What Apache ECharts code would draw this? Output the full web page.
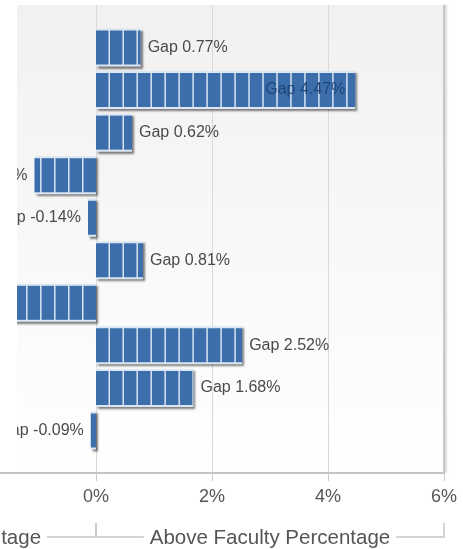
<!DOCTYPE html>
<html><head><meta charset="utf-8">
<script src="https://cdn.jsdelivr.net/npm/echarts@6/dist/echarts.min.js"></script>
<style>html,body{margin:0;padding:0;background:#fff}#c{width:463px;height:549px}</style>
</head><body><div id="c"></div>
<script>
// ---- data ----
const categories = ['Category 1','Category 2','Category 3','Category 4','Category 5','Category 6','Category 7','Category 8','Category 9','Category 10'];
const gapValues = [0.77, 4.47, 0.62, -1.06, -0.14, 0.81, -1.75, 2.52, 1.68, -0.09];
const xMin = -6, xMax = 6, xStep = 2;
const sideTitles = ['Below Faculty Percentage', 'Above Faculty Percentage'];

const FONT = '"Liberation Sans", Arial, Helvetica, sans-serif';
const chart = echarts.init(document.getElementById('c'), null, {renderer: 'canvas'});
const axisCats = [''].concat(categories, ['']);
const pad = arr => ['-'].concat(arr, ['-']);
const maxVal = Math.max.apply(null, gapValues);

const labelItems = gapValues.map(v => {
  let label;
  if (v === maxVal) label = {position: 'insideRight', color: '#234678', distance: 10};
  else if (v < 0) label = {position: 'left'};
  else label = {position: 'right'};
  return {value: v, label: label};
});
const pictItems = gapValues.map(v => ({value: v, symbolBoundingData: v < 0 ? xMin : xMax}));

chart.setOption({
  animation: false,
  textStyle: {fontFamily: FONT},
  grid: {
    left: -252, right: 19, top: 5, bottom: 76, show: true, borderWidth: 0,
    containLabel: false, outerBoundsMode: 'none',
    backgroundColor: {type: 'linear', x: 0, y: 0, x2: 0, y2: 1,
      colorStops: [{offset: 0, color: '#f1f1f1'}, {offset: 1, color: '#ffffff'}]}
  },
  xAxis: {
    type: 'value', min: xMin, max: xMax, interval: xStep,
    axisLine: {show: true, lineStyle: {color: '#c4c4c4', width: 2}},
    axisTick: {show: true, length: 8, lineStyle: {color: '#cccccc'}},
    axisLabel: {formatter: '{value}%', fontSize: 18, color: '#555555', margin: 15, fontFamily: FONT},
    splitLine: {show: true, lineStyle: {color: '#dadada', width: 1}}
  },
  yAxis: {
    type: 'category', inverse: true, boundaryGap: false, data: axisCats,
    axisLine: {show: false}, axisTick: {show: false}, axisLabel: {show: false}, splitLine: {show: false}
  },
  series: [
    {
      type: 'bar', data: pad(gapValues), barWidth: 38, barGap: '-100%', z: 1, silent: true,
      itemStyle: {color: '#dbe6f3', shadowColor: 'rgba(0,0,0,0.5)', shadowBlur: 2, shadowOffsetX: 2, shadowOffsetY: 2}
    },
    {
      type: 'pictorialBar', data: pad(pictItems), z: 2, silent: true,
      symbol: 'rect', symbolRepeat: 'fixed', symbolClip: true,
      symbolSize: [12.5, 34], symbolMargin: 0.9,
      itemStyle: {color: '#3b6eab'}
    },
    {
      type: 'bar', data: pad(labelItems), barWidth: 38, barGap: '-100%', z: 5, silent: true,
      itemStyle: {color: 'rgba(0,0,0,0)'},
      label: {show: true, fontSize: 16, color: '#4a4a4a', distance: 7, fontFamily: FONT,
        formatter: p => 'Gap ' + Number(p.value).toFixed(2) + '%'}
    }
  ]
});

// ---- decorations derived from the axes ----
const px = v => chart.convertToPixel({xAxisIndex: 0}, v);
const yTop = chart.convertToPixel({yAxisIndex: 0}, 0);
const yBot = chart.convertToPixel({yAxisIndex: 0}, axisCats.length - 1);
const bracketTop = yBot + 50, bracketY = yBot + 64;
const sides = [[xMin, 0], [0, xMax]];
const graphics = [
  {type: 'rect', z: 100, silent: true, shape: {x: 0, y: 0, width: 17, height: yBot - 1}, style: {fill: '#ffffff'}},
  {type: 'line', z: 50, silent: true, shape: {x1: px(xMax), y1: yTop, x2: px(xMax), y2: yBot},
    style: {stroke: '#c8c8c8', lineWidth: 2, shadowColor: 'rgba(0,0,0,0.2)', shadowBlur: 2, shadowOffsetX: 1.5}}
];
sides.forEach((s, i) => {
  const a = px(s[0]), b = px(s[1]);
  graphics.push({type: 'polyline', z: 50, silent: true,
    shape: {points: [[a, bracketTop], [a, bracketY], [b, bracketY], [b, bracketTop]]},
    style: {stroke: '#c8c8c8', lineWidth: 1.5, fill: null}});
  graphics.push({type: 'text', z: 51, silent: true, x: (a + b) / 2, y: bracketY + 1,
    style: {text: sideTitles[i], fontSize: 20.5, fontFamily: FONT, fill: '#555555',
      align: 'center', verticalAlign: 'middle', backgroundColor: '#ffffff', padding: [0, 6]}});
});
chart.setOption({graphic: graphics});
</script></body></html>
